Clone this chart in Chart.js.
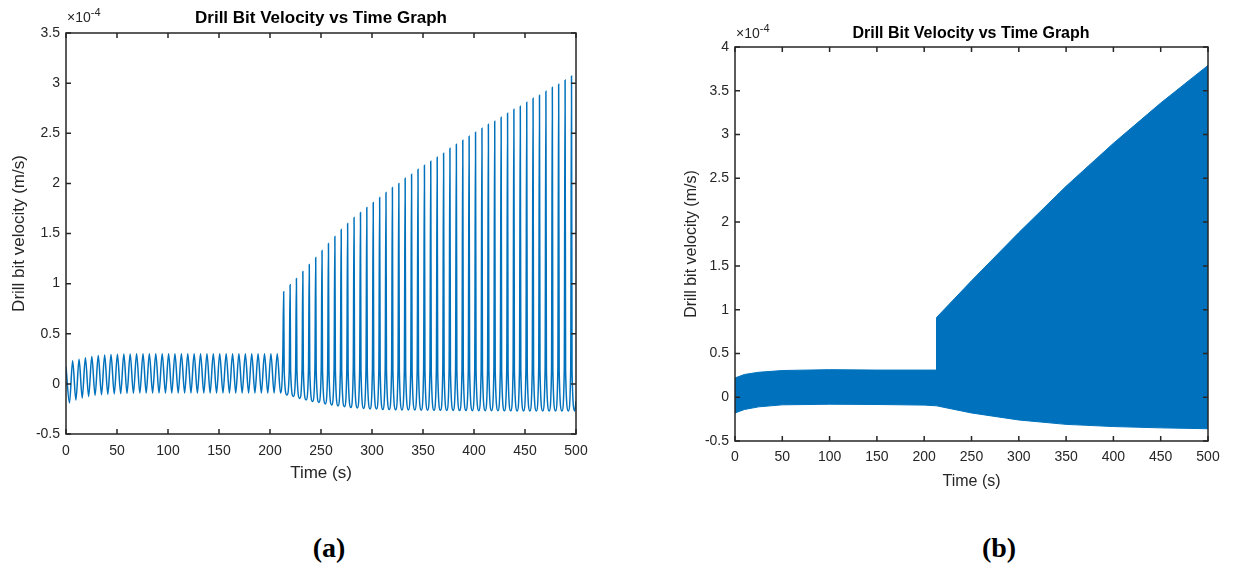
<!DOCTYPE html>
<html lang="en">
<head>
<meta charset="UTF-8">
<title>Drill Bit Velocity vs Time Graph</title>
<script src="https://cdn.jsdelivr.net/npm/chart.js"></script>
<style>
  body{margin:0;background:#fff;width:1234px;height:565px;overflow:hidden;position:relative;font-family:"Liberation Sans",Arial,sans-serif}
  canvas{position:absolute;top:0}
  #chartA{left:0}
  #chartB{left:676px}
  .ttl{position:absolute;font-weight:bold;color:#000;white-space:nowrap;transform:translate(-50%,-50%)}
  .exp{position:absolute;color:#262626;white-space:nowrap;font-size:14px}
  .exp span{position:relative;top:-6px;font-size:11px}
  .cap{position:absolute;font-family:"Liberation Serif","Times New Roman",serif;font-weight:bold;font-size:28px;transform:translate(-50%,-50%)}
</style>
<script>
// (a) velocity in units of 1e-4 m/s, extrema
const startT = 0, startV = 0.17;
const endT = 500, endV = -0.17;
const crestT = [6.5, 12.8, 19.0, 25.3, 31.6, 37.9, 44.1, 50.4, 56.7, 62.9, 69.2, 75.5, 81.7, 88.0, 94.3, 100.6, 106.8, 113.1, 119.4, 125.6,
  131.9, 138.2, 144.4, 150.7, 157.0, 163.3, 169.5, 175.8, 182.1, 188.3, 194.6, 200.9, 207.1, 213.4, 219.7, 225.9, 232.2, 238.5, 244.8, 251.0,
  257.3, 263.6, 269.8, 276.1, 282.4, 288.7, 294.9, 301.2, 307.5, 313.7, 320.0, 326.3, 332.5, 338.8, 345.1, 351.4, 357.6, 363.9, 370.2, 376.4,
  382.7, 389.0, 395.2, 401.5, 407.8, 414.1, 420.3, 426.6, 432.9, 439.1, 445.4, 451.7, 457.9, 464.2, 470.5, 476.8, 483.0, 489.3, 495.6];
const crestV = [0.23, 0.245, 0.26, 0.272, 0.282, 0.288, 0.292, 0.295, 0.297, 0.298, 0.3, 0.3, 0.3, 0.3, 0.3, 0.3, 0.3, 0.3, 0.3, 0.3,
  0.3, 0.3, 0.3, 0.3, 0.3, 0.3, 0.3, 0.3, 0.3, 0.3, 0.3, 0.3, 0.3,
  0.92, 0.99, 1.05, 1.12, 1.19, 1.26, 1.33, 1.40, 1.47, 1.54, 1.60, 1.66, 1.71, 1.76, 1.81, 1.86, 1.91, 1.96, 2.00, 2.05,
  2.09, 2.14, 2.18, 2.22, 2.26, 2.30, 2.35, 2.39, 2.43, 2.47, 2.51, 2.55, 2.59, 2.62, 2.66, 2.70, 2.74, 2.77, 2.81, 2.85,
  2.88, 2.92, 2.96, 2.99, 3.03, 3.07];
const troughT = [3.4, 9.7, 15.9, 22.2, 28.5, 34.8, 41.0, 47.3, 53.6, 59.8, 66.1, 72.4, 78.6, 84.9, 91.2, 97.5, 103.7, 110.0, 116.3, 122.5,
  128.8, 135.1, 141.3, 147.6, 153.9, 160.2, 166.4, 172.7, 179.0, 185.2, 191.5, 197.8, 204.0, 210.3, 216.6, 222.9, 229.1, 235.4, 241.7, 247.9,
  254.2, 260.5, 266.7, 273.0, 279.3, 285.6, 291.8, 298.1, 304.4, 310.6, 316.9, 323.2, 329.4, 335.7, 342.0, 348.3, 354.5, 360.8, 367.1, 373.3,
  379.6, 385.9, 392.1, 398.4, 404.7, 411.0, 417.2, 423.5, 429.8, 436.0, 442.3, 448.6, 454.8, 461.1, 467.4, 473.7, 479.9, 486.2, 492.5, 498.8];
const troughV = [-0.19, -0.16, -0.14, -0.125, -0.115, -0.108, -0.103, -0.1, -0.097, -0.095, -0.093, -0.092, -0.091,
  -0.09, -0.09, -0.09, -0.09, -0.09, -0.09, -0.09, -0.09, -0.09, -0.09, -0.09, -0.09, -0.09, -0.09, -0.09, -0.09, -0.09, -0.09, -0.09, -0.09, -0.09,
  -0.11, -0.125, -0.145, -0.16, -0.175, -0.185, -0.2, -0.21, -0.22, -0.228, -0.235, -0.24, -0.245, -0.25, -0.25, -0.255, -0.255, -0.258,
  -0.26, -0.26, -0.26, -0.262, -0.262, -0.264, -0.264, -0.265, -0.265, -0.266, -0.266, -0.267, -0.267, -0.268, -0.268, -0.268, -0.269, -0.269,
  -0.27, -0.27, -0.27, -0.27, -0.27, -0.27, -0.27, -0.27, -0.27, -0.27];
// foot of each spike after the jump (first spike rises from the old crest level)
const jumpIndex = 33;
const jumpFootV = 0.30;
const footV = 0.13;

// (b) envelope of the dense oscillation
const timeB = [0, 10, 25, 50, 100, 150, 200, 213, 213, 250, 300, 350, 400, 450, 500];
const upperB = [0.22, 0.26, 0.285, 0.305, 0.315, 0.31, 0.31, 0.31, 0.91, 1.33, 1.88, 2.41, 2.90, 3.36, 3.79];
const lowerB = [-0.18, -0.14, -0.11, -0.087, -0.08, -0.083, -0.09, -0.098, -0.098, -0.18, -0.26, -0.31, -0.335, -0.35, -0.36];

const xTicks = [0, 50, 100, 150, 200, 250, 300, 350, 400, 450, 500];
const yTicksA = [-0.5, 0, 0.5, 1, 1.5, 2, 2.5, 3, 3.5];
const yTicksB = [-0.5, 0, 0.5, 1, 1.5, 2, 2.5, 3, 3.5, 4];
</script>
</head>
<body>
  <canvas id="chartA" width="620" height="500"></canvas>
  <canvas id="chartB" width="558" height="510"></canvas>

  <div class="ttl" style="left:321px;top:18px;font-size:17px">Drill Bit Velocity vs Time Graph</div>
  <div class="exp" style="left:67px;top:9px">×10<span>-4</span></div>
  <div class="ttl" style="left:971px;top:33px;font-size:16px">Drill Bit Velocity vs Time Graph</div>
  <div class="exp" style="left:736px;top:25px">×10<span>-4</span></div>

  <div class="cap" style="left:329px;top:548px">(a)</div>
  <div class="cap" style="left:999px;top:548px">(b)</div>

<script>
  const blue = '#0072BD';
  const ink = '#262626';
  const sans = '"Liberation Sans", Arial, sans-serif';

  // 상자와 안쪽 눈금 (MATLAB 스타일)
  const boxTicks = {
    id: 'boxTicks',
    afterDraw(chart) {
      const {ctx, chartArea: a, scales: {x, y}} = chart;
      ctx.save();
      ctx.strokeStyle = ink;
      ctx.lineWidth = 1.5;
      ctx.strokeRect(a.left, a.top, a.right - a.left, a.bottom - a.top);
      ctx.beginPath();
      x.ticks.forEach(t => {
        const px = x.getPixelForValue(t.value);
        ctx.moveTo(px, a.bottom); ctx.lineTo(px, a.bottom - 5);
        ctx.moveTo(px, a.top); ctx.lineTo(px, a.top + 5);
      });
      y.ticks.forEach(t => {
        const py = y.getPixelForValue(t.value);
        ctx.moveTo(a.left, py); ctx.lineTo(a.left + 5, py);
        ctx.moveTo(a.right, py); ctx.lineTo(a.right - 5, py);
      });
      ctx.stroke();
      ctx.restore();
    }
  };

  function axes(o) {
    return {
      x: {
        type: 'linear', min: 0, max: 500,
        afterFit: s => { s.height = o.xh; },
        afterBuildTicks: s => { s.ticks = xTicks.map(v => ({value: v})); },
        grid: {display: false, drawTicks: false},
        border: {display: false},
        ticks: {autoSkip: false, maxRotation: 0, padding: o.xpad, color: ink, font: {family: sans, size: 14},
          callback: v => String(v)},
        title: {display: true, text: 'Time (s)', color: ink, font: {family: sans, size: o.ts}, padding: {top: 0, bottom: o.xtb}}
      },
      y: {
        type: 'linear', min: o.ymin, max: o.ymax,
        afterFit: s => { s.width = o.yw; },
        afterBuildTicks: s => { s.ticks = o.yt.map(v => ({value: v})); },
        grid: {display: false, drawTicks: false},
        border: {display: false},
        ticks: {padding: 6, color: ink, font: {family: sans, size: 14}, callback: v => String(v)},
        title: {display: true, text: 'Drill bit velocity (m/s)', color: ink, font: {family: sans, size: o.ts}, padding: {top: o.ytp, bottom: 0}}
      }
    };
  }

  // (a) 극값 점들을 시간순으로 합치기
  const ptsA = [{x: startT, y: startV}];
  troughT.forEach((t, i) => ptsA.push({x: t, y: troughV[i]}));
  crestT.forEach((t, i) => {
    ptsA.push({x: t, y: crestV[i]});
    if (i >= jumpIndex) {
      const f = i === jumpIndex ? jumpFootV : footV;
      ptsA.push({x: t - 0.8, y: f});
      ptsA.push({x: t + 0.5, y: footV});
    }
  });
  ptsA.push({x: endT, y: endV});
  ptsA.sort((p, q) => p.x - q.x);

  new Chart(document.getElementById('chartA'), {
    type: 'line',
    data: {
      datasets: [{
        data: ptsA,
        borderColor: blue,
        borderWidth: 1.5,
        pointRadius: 0,
        cubicInterpolationMode: 'monotone',
        fill: false
      }]
    },
    options: {
      responsive: false,
      animation: false,
      devicePixelRatio: 1,
      layout: {padding: {left: 0, right: 44, top: 33, bottom: 0}},
      plugins: {legend: {display: false}, tooltip: {enabled: false}},
      scales: axes({xh: 66, xpad: 9, xtb: 16, ts: 17, ymin: -0.5, ymax: 3.5, yw: 66, ytp: 9, yt: yTicksA})
    },
    plugins: [boxTicks]
  });

  new Chart(document.getElementById('chartB'), {
    type: 'line',
    data: {
      datasets: [{
        data: timeB.map((t, i) => ({x: t, y: upperB[i]})),
        borderColor: blue,
        backgroundColor: blue,
        borderWidth: 1,
        pointRadius: 0,
        tension: 0,
        fill: '+1'
      }, {
        data: timeB.map((t, i) => ({x: t, y: lowerB[i]})),
        borderColor: blue,
        borderWidth: 1,
        pointRadius: 0,
        tension: 0,
        fill: false
      }]
    },
    options: {
      responsive: false,
      animation: false,
      devicePixelRatio: 1,
      layout: {padding: {left: 0, right: 26, top: 47, bottom: 0}},
      plugins: {legend: {display: false}, tooltip: {enabled: false}},
      scales: axes({xh: 69, xpad: 8, xtb: 19, ts: 16, ymin: -0.5, ymax: 4, yw: 59, ytp: 6, yt: yTicksB})
    },
    plugins: [boxTicks]
  });
</script>
</body>
</html>
